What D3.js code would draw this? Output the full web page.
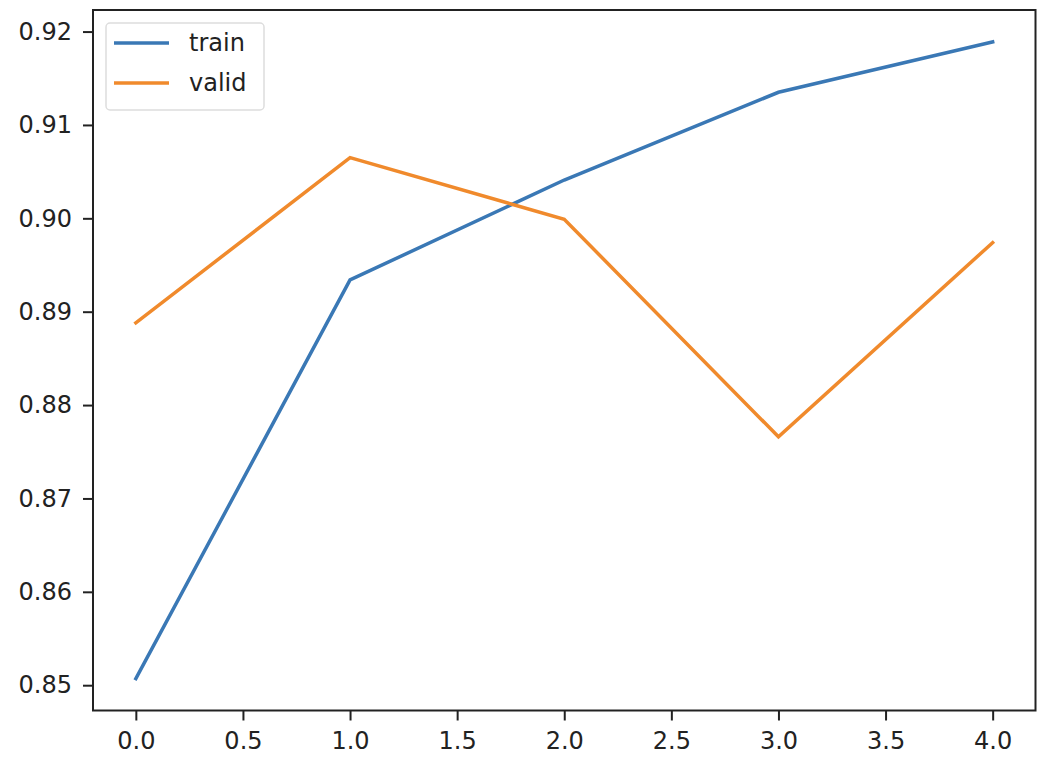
<!DOCTYPE html>
<html>
<head>
<meta charset="utf-8">
<script src="https://cdn.jsdelivr.net/npm/d3@7"></script>
<style>
  body { margin: 0; background: #fff; }
  text { font-family: "DejaVu Sans", sans-serif; fill: #222; }
</style>
</head>
<body>
<div id="chart"></div>
<script>
// chart data
const epochs = [0, 1, 2, 3, 4];
const trainAcc = [0.8507, 0.8934, 0.9041, 0.9135, 0.9189];
const validAcc = [0.8888, 0.9065, 0.8999, 0.8766, 0.8974];
const xTicks = [0.0, 0.5, 1.0, 1.5, 2.0, 2.5, 3.0, 3.5, 4.0];
const yTicks = [0.85, 0.86, 0.87, 0.88, 0.89, 0.90, 0.91, 0.92];
const seriesNames = ['train', 'valid'];

let W = 1060, H = 768;
let mLeft = 93, mRight = 1035.5, mTop = 10, mBottom = 710.5;
let colors = ['#3a78b5', '#f08a2c'];

let svg = d3.select('#chart').append('svg')
  .attr('width', W).attr('height', H);

// matplotlib style 5% margins
let yMin = d3.min([...trainAcc, ...validAcc]), yMax = d3.max([...trainAcc, ...validAcc]);
let yPad = (yMax - yMin) * 0.05;
let xPad = (d3.max(epochs) - d3.min(epochs)) * 0.05;

let x = d3.scaleLinear().domain([d3.min(epochs) - xPad, d3.max(epochs) + xPad]).range([mLeft, mRight]);
let y = d3.scaleLinear().domain([yMin - yPad, yMax + yPad]).range([mBottom, mTop]);

let xAxis = d3.axisBottom(x).tickValues(xTicks).tickFormat(d3.format('.1f')).tickSize(10).tickPadding(11);
let yAxis = d3.axisLeft(y).tickValues(yTicks).tickFormat(d3.format('.2f')).tickSize(10).tickPadding(11);

let gx = svg.append('g').attr('transform', `translate(0,${mBottom})`).call(xAxis);
let gy = svg.append('g').attr('transform', `translate(${mLeft},0)`).call(yAxis);
[gx, gy].forEach(g => {
  g.select('.domain').remove();
  g.selectAll('.tick line').attr('stroke', '#222').attr('stroke-width', 2);
  g.selectAll('.tick text').style('font-size', '24px').style('font-family', '"DejaVu Sans", sans-serif').attr('fill', '#222');
});

let line = d3.line().x((d, i) => x(epochs[i])).y(d => y(d));

[trainAcc, validAcc].forEach((s, k) => {
  svg.append('path').datum(s)
    .attr('d', line)
    .attr('fill', 'none')
    .attr('stroke', colors[k])
    .attr('stroke-width', 3.5)
    .attr('stroke-linecap', 'square');
});

// frame
svg.append('rect')
  .attr('x', mLeft).attr('y', mTop)
  .attr('width', mRight - mLeft).attr('height', mBottom - mTop)
  .attr('fill', 'none').attr('stroke', '#222').attr('stroke-width', 2);

// legend
let lg = svg.append('g');
lg.append('rect')
  .attr('x', 106).attr('y', 23).attr('width', 158).attr('height', 87).attr('rx', 4)
  .attr('fill', '#fff').attr('fill-opacity', 0.8).attr('stroke', '#ddd').attr('stroke-width', 1.5);
seriesNames.forEach((n, k) => {
  let yy = 43 + k * 40;
  lg.append('line').attr('x1', 114).attr('x2', 169).attr('y1', yy).attr('y2', yy)
    .attr('stroke', colors[k]).attr('stroke-width', 3.5);
  lg.append('text').attr('x', 189).attr('y', yy).attr('dy', '0.35em')
    .style('font-size', '24px').text(n);
});
</script>
</body>
</html>
